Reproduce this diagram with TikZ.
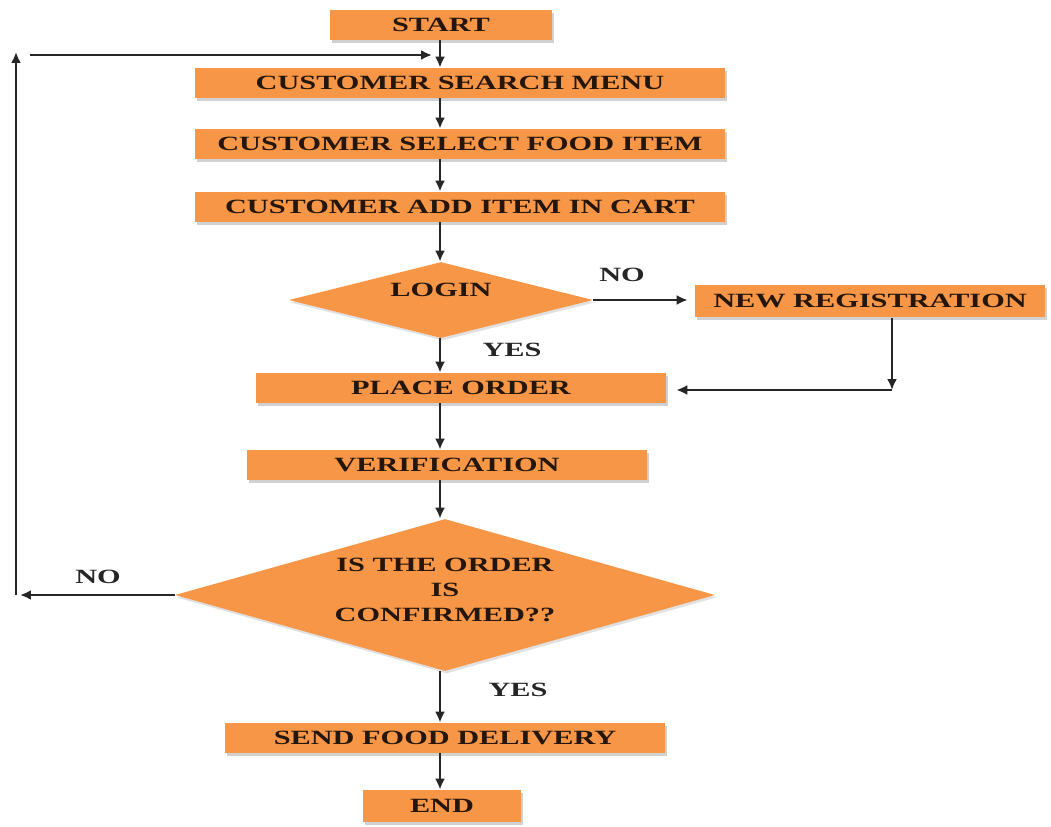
\documentclass[tikz,border=0pt]{standalone}
\usepackage{fontspec}
\newfontfamily\flowfont{Liberation Serif}[FakeStretch=1.5]
\usetikzlibrary{shapes.geometric, arrows.meta, shadows, positioning}
\definecolor{boxorange}{HTML}{F79646}
\definecolor{inkbrown}{HTML}{24160B}
\tikzset{
  flowtext/.style={font=\flowfont\bfseries\fontsize{11.5}{14}\selectfont, text=inkbrown, align=center},
  stepbox/.style={rectangle, fill=boxorange, flowtext, inner sep=0pt, minimum height=0.6cm,
    drop shadow={shadow xshift=0.04cm, shadow yshift=-0.06cm, fill=gray!45, opacity=0.8}},
  decision/.style={diamond, fill=boxorange, inner sep=0pt,
    drop shadow={shadow xshift=0.03cm, shadow yshift=-0.05cm, fill=gray!30, opacity=0.8}},
  answer/.style={flowtext, text=black!85},
  flow/.style={draw=black!85, line width=1.4pt, -{Latex[length=2.2mm,width=2mm]}}
}
\begin{document}
\begin{tikzpicture}[x=0.02cm,y=-0.02cm]
\useasboundingbox (0,0) rectangle (1051,827);
%------------------------------
% main column
%______________________________
\coordinate (axis) at (440,0);
\node[stepbox, minimum width=4.46cm] (start) at (441,25) {START};
\node[stepbox, minimum width=10.62cm] (search) at (460,83) {CUSTOMER SEARCH MENU};
\node[stepbox, minimum width=10.62cm] (select) at (460,144) {CUSTOMER SELECT FOOD ITEM};
\node[stepbox, minimum width=10.62cm] (addcart) at (460,207) {CUSTOMER ADD ITEM IN CART};
\node[decision, minimum width=6.08cm, minimum height=1.52cm,
  label={[flowtext,yshift=0.2cm]center:LOGIN}] (login) at (441,300) {};
\node[stepbox, minimum width=7.0cm, minimum height=0.66cm] (newreg) at (870,301) {NEW REGISTRATION};
\node[stepbox, minimum width=8.2cm] (place) at (461,388) {PLACE ORDER};
\node[stepbox, minimum width=8.0cm] (verify) at (447,465) {VERIFICATION};
\node[decision, minimum width=10.8cm, minimum height=3.04cm,
  label={[flowtext,yshift=0.1cm]center:IS THE ORDER\\IS\\CONFIRMED??}] (confirm) at (445,595) {};
\node[stepbox, minimum width=8.82cm] (send) at (445,738) {SEND FOOD DELIVERY};
\node[stepbox, minimum width=3.16cm, minimum height=0.64cm] (finish) at (442,806) {END};
%
\node[answer] (noreg) at (622,275) {NO};
\node[answer] (yeslogin) at (512,350) {YES};
\node[answer] (noconf) at (98,577) {NO};
\node[answer] (yesconf) at (518,690) {YES};
%
\draw[flow] (axis |- start.south) -- (axis |- search.north);
\foreach \a/\b in {search/select, select/addcart, addcart/login, login/place,
                   place/verify, verify/confirm, confirm/send, send/finish} {
    \draw[flow] (axis |- \a.south) -- (axis |- \b.north);
}
%------------------------------
% registration branch
%______________________________
\coordinate (regturn) at (892,390);
\draw[flow, shorten >=0.14cm] (login.east) -- (login.east -| newreg.west);
\draw[flow] (newreg.south -| regturn) -- (regturn);
\draw[flow, shorten >=0.2cm] (regturn) -- (regturn -| place.east);
%------------------------------
% loop back to the menu
%______________________________
\coordinate (loopbot) at (16,595);
\coordinate (looptop) at (16,52);
\coordinate (loopin) at (30,55);
\draw[flow, shorten >=0.08cm] (confirm.west) -- (loopbot);
\draw[flow] (loopbot) -- (looptop);
\draw[flow, shorten >=0.16cm] (loopin) -- (axis |- loopin);
\end{tikzpicture}
\end{document}
